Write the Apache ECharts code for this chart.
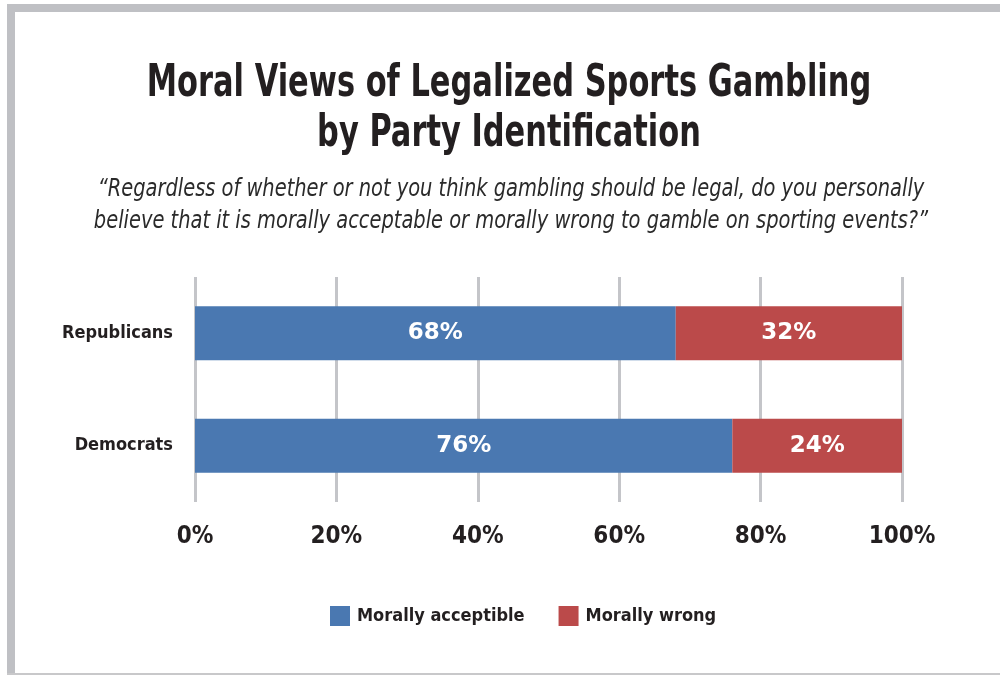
<!DOCTYPE html>
<html><head><meta charset="utf-8">
<script src="https://cdn.jsdelivr.net/npm/echarts@6/dist/echarts.min.js"></script>
<style>html,body{margin:0;padding:0;background:#fff}#c{width:1000px;height:675px}</style>
</head><body><div id="c"></div>
<script>
const categories = ['Republicans', 'Democrats'];
const acceptable = [68, 76];
const wrong = [32, 24];
const seriesNames = ['Morally acceptible', 'Morally wrong'];
const xTicks = [0, 20, 40, 60, 80, 100];
const titleText = 'Moral Views of Legalized Sports Gambling\nby Party Identification';
const subtitleText = '\u201cRegardless of whether or not you think gambling should be legal, do you personally\nbelieve that it is morally acceptable or morally wrong to gamble on sporting events?\u201d';

const NARROW = "'DejaVu Sans Condensed', 'DejaVu Sans', sans-serif";
const DARK = '#231f20';
const BLUE = '#4a78b1';
const RED = '#bb4a4a';

const chart = echarts.init(document.getElementById('c'), null, {renderer: 'canvas'});
chart.setOption({
  backgroundColor: '#fff',
  animation: false,
  graphic: [
    {type: 'rect', shape: {x: 7, y: 4, width: 993, height: 8}, style: {fill: '#bfc0c4'}, silent: true},
    {type: 'rect', shape: {x: 7, y: 4, width: 8, height: 671}, style: {fill: '#bfc0c4'}, silent: true},
    {type: 'rect', shape: {x: 7, y: 673, width: 993, height: 2}, style: {fill: '#c8c8ca'}, silent: true},
    {type: 'text', x: 509, y: 60, scaleX: 0.77, silent: true,
      style: {text: titleText, x: 0, y: 0, align: 'center', verticalAlign: 'top',
        font: "bold 44px " + NARROW, lineHeight: 50, fill: DARK}},
    {type: 'text', x: 511, y: 174, scaleX: 0.9, silent: true,
      style: {text: subtitleText, x: 0, y: 0, align: 'center', verticalAlign: 'top',
        font: "italic 24px " + NARROW, lineHeight: 32, fill: '#2a2a2a'}}
  ],
  legend: {
    bottom: 44, left: 325,
    itemWidth: 20, itemHeight: 20, itemGap: 34,
    icon: 'rect',
    textStyle: {fontFamily: NARROW, fontWeight: 'bold', fontSize: 18, color: DARK, padding: [0, 0, 0, 2]},
    data: seriesNames
  },
  grid: {left: 195, right: 98, top: 277, bottom: 173},
  xAxis: {
    type: 'value', min: 0, max: 100, interval: 20,
    axisLine: {show: false}, axisTick: {show: false},
    splitLine: {show: true, lineStyle: {color: '#c4c5c9', width: 3}},
    axisLabel: {
      formatter: v => xTicks.includes(v) ? v + '%' : '',
      margin: 23, fontFamily: NARROW, fontWeight: 'bold', fontSize: 24, color: DARK
    }
  },
  yAxis: {
    type: 'category', data: categories, inverse: true,
    axisLine: {show: false}, axisTick: {show: false}, splitLine: {show: false},
    axisLabel: {margin: 22, fontFamily: NARROW, fontWeight: 'bold', fontSize: 18, color: DARK}
  },
  series: [{
    name: seriesNames[0], type: 'bar', stack: 'total', data: acceptable,
    barWidth: 54, itemStyle: {color: BLUE},
    label: {show: true, position: 'inside', formatter: p => p.value + '%',
      fontFamily: "'DejaVu Sans', sans-serif", fontWeight: 'bold', fontSize: 23, color: '#fff'}
  }, {
    name: seriesNames[1], type: 'bar', stack: 'total', data: wrong,
    barWidth: 54, itemStyle: {color: RED},
    label: {show: true, position: 'inside', formatter: p => p.value + '%',
      fontFamily: "'DejaVu Sans', sans-serif", fontWeight: 'bold', fontSize: 23, color: '#fff'}
  }]
});
</script></body></html>
